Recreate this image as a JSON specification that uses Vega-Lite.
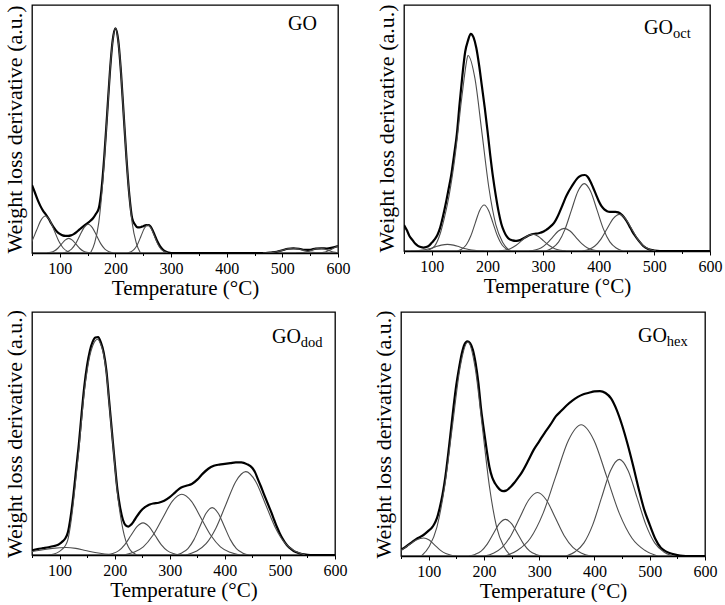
{
"$schema": "https://vega.github.io/schema/vega-lite/v6.json",
"background": "white",
"padding": {"left": 2, "top": 3, "right": 0, "bottom": 0},
"config": {
 "font": "Liberation Serif",
 "view": {"stroke": "#000", "strokeWidth": 1.3},
 "style": {"guide-label": {"font": "Liberation Serif", "fill": "#000"}, "guide-title": {"font": "Liberation Serif", "fill": "#000", "fontWeight": "normal"}},
 "axis": {"grid": false, "domainColor": "#000", "tickColor": "#000", "labelColor": "#000", "titleColor": "#000", "labelFont": "Liberation Serif", "titleFont": "Liberation Serif", "titleFontWeight": "normal"},
 "axisX": {"values": [50,100,150,200,250,300,350,400,450,500,550,600], "labelExpr": "datum.value % 100 === 0 ? datum.label : ''", "tickSize": {"condition": {"test": "datum.value % 100 === 0", "value": 4}, "value": 2.5}, "labelFont": "Liberation Serif", "titleFont": "Liberation Serif", "labelFontSize": 16, "titleFontSize": 21, "labelPadding": 3, "titlePadding": 1, "labelFlush": false, "labelOverlap": false, "domainWidth": 1.3},
 "axisY": {"labels": false, "ticks": false, "domain": false, "titleFont": "Liberation Serif", "titleFontSize": 22, "titlePadding": 6}
},
"datasets": {
"GO_env": [
{"T":50,"y":0.274},{"T":55,"y":0.245},{"T":60,"y":0.215},{"T":65,"y":0.19},{"T":70,"y":0.17},{"T":75,"y":0.155},{"T":80,"y":0.138},{"T":85,"y":0.118},{"T":90,"y":0.1},{"T":95,"y":0.086},{"T":100,"y":0.077},{"T":105,"y":0.071},{"T":110,"y":0.069},{"T":115,"y":0.069},{"T":120,"y":0.071},{"T":125,"y":0.076},{"T":130,"y":0.084},{"T":135,"y":0.094},{"T":140,"y":0.103},{"T":145,"y":0.112},{"T":150,"y":0.121},{"T":155,"y":0.13},{"T":160,"y":0.141},{"T":165,"y":0.158},{"T":170,"y":0.18},{"T":175,"y":0.258},{"T":180,"y":0.391},{"T":185,"y":0.558},{"T":190,"y":0.729},{"T":195,"y":0.857},{"T":200,"y":0.906},{"T":205,"y":0.857},{"T":210,"y":0.726},{"T":215,"y":0.55},{"T":220,"y":0.375},{"T":225,"y":0.232},{"T":230,"y":0.14},{"T":235,"y":0.115},{"T":240,"y":0.103},{"T":245,"y":0.104},{"T":250,"y":0.108},{"T":255,"y":0.112},{"T":260,"y":0.112},{"T":265,"y":0.1},{"T":270,"y":0.075},{"T":275,"y":0.048},{"T":280,"y":0.028},{"T":285,"y":0.014},{"T":290,"y":0.006},{"T":295,"y":0.002},{"T":300,"y":0},{"T":350,"y":0},{"T":400,"y":0},{"T":450,"y":0},{"T":470,"y":0},{"T":480,"y":0.002},{"T":490,"y":0.005},{"T":500,"y":0.011},{"T":510,"y":0.017},{"T":520,"y":0.019},{"T":530,"y":0.017},{"T":540,"y":0.013},{"T":550,"y":0.013},{"T":560,"y":0.018},{"T":570,"y":0.019},{"T":580,"y":0.018},{"T":590,"y":0.022},{"T":600,"y":0.028}
],
"GO_comp": [
{"curve":"A","T":26,"y":0},{"curve":"A","T":34,"y":0.0065},{"curve":"A","T":42,"y":0.0202},{"curve":"A","T":50,"y":0.0484},{"curve":"A","T":58,"y":0.0904},{"curve":"A","T":66,"y":0.1315},{"curve":"A","T":74,"y":0.149},{"curve":"A","T":82,"y":0.1315},{"curve":"A","T":90,"y":0.0904},{"curve":"A","T":98,"y":0.0484},{"curve":"A","T":106,"y":0.0202},{"curve":"A","T":114,"y":0.0065},{"curve":"A","T":122,"y":0},
{"curve":"B","T":77,"y":0},{"curve":"B","T":83.5,"y":0.0026},{"curve":"B","T":90,"y":0.008},{"curve":"B","T":96.5,"y":0.0192},{"curve":"B","T":103,"y":0.0358},{"curve":"B","T":109.5,"y":0.0521},{"curve":"B","T":116,"y":0.059},{"curve":"B","T":122.5,"y":0.0521},{"curve":"B","T":129,"y":0.0358},{"curve":"B","T":135.5,"y":0.0192},{"curve":"B","T":142,"y":0.008},{"curve":"B","T":148.5,"y":0.0026},{"curve":"B","T":155,"y":0},
{"curve":"C","T":106,"y":0},{"curve":"C","T":113.5,"y":0.0051},{"curve":"C","T":121,"y":0.0157},{"curve":"C","T":128.5,"y":0.0377},{"curve":"C","T":136,"y":0.0704},{"curve":"C","T":143.5,"y":0.1024},{"curve":"C","T":151,"y":0.116},{"curve":"C","T":158.5,"y":0.1024},{"curve":"C","T":166,"y":0.0704},{"curve":"C","T":173.5,"y":0.0377},{"curve":"C","T":181,"y":0.0157},{"curve":"C","T":188.5,"y":0.0051},{"curve":"C","T":196,"y":0},
{"curve":"D","T":155,"y":0},{"curve":"D","T":162.5,"y":0.0398},{"curve":"D","T":170,"y":0.1226},{"curve":"D","T":177.5,"y":0.2942},{"curve":"D","T":185,"y":0.5495},{"curve":"D","T":192.5,"y":0.7995},{"curve":"D","T":200,"y":0.906},{"curve":"D","T":207.5,"y":0.7995},{"curve":"D","T":215,"y":0.5495},{"curve":"D","T":222.5,"y":0.2942},{"curve":"D","T":230,"y":0.1226},{"curve":"D","T":237.5,"y":0.0398},{"curve":"D","T":245,"y":0},
{"curve":"E","T":222,"y":0},{"curve":"E","T":228,"y":0.005},{"curve":"E","T":234,"y":0.0153},{"curve":"E","T":240,"y":0.0367},{"curve":"E","T":246,"y":0.0685},{"curve":"E","T":252,"y":0.0997},{"curve":"E","T":258,"y":0.113},{"curve":"E","T":264,"y":0.0997},{"curve":"E","T":270,"y":0.0685},{"curve":"E","T":276,"y":0.0367},{"curve":"E","T":282,"y":0.0153},{"curve":"E","T":288,"y":0.005},{"curve":"E","T":294,"y":0},
{"curve":"F","T":465,"y":0},{"curve":"F","T":474,"y":0.0008},{"curve":"F","T":483,"y":0.0026},{"curve":"F","T":492,"y":0.0062},{"curve":"F","T":501,"y":0.0115},{"curve":"F","T":510,"y":0.0168},{"curve":"F","T":519,"y":0.019},{"curve":"F","T":528,"y":0.0168},{"curve":"F","T":537,"y":0.0115},{"curve":"F","T":546,"y":0.0062},{"curve":"F","T":555,"y":0.0026},{"curve":"F","T":564,"y":0.0008},{"curve":"F","T":573,"y":0},
{"curve":"G","T":525,"y":0},{"curve":"G","T":532,"y":0.0008},{"curve":"G","T":539,"y":0.0026},{"curve":"G","T":546,"y":0.0062},{"curve":"G","T":553,"y":0.0115},{"curve":"G","T":560,"y":0.0168},{"curve":"G","T":567,"y":0.019},{"curve":"G","T":574,"y":0.0168},{"curve":"G","T":581,"y":0.0115},{"curve":"G","T":588,"y":0.0062},{"curve":"G","T":595,"y":0.0026},{"curve":"G","T":602,"y":0.0008},{"curve":"G","T":609,"y":0},
{"curve":"H","T":563,"y":0},{"curve":"H","T":570,"y":0.0013},{"curve":"H","T":577,"y":0.0041},{"curve":"H","T":584,"y":0.0097},{"curve":"H","T":591,"y":0.0182},{"curve":"H","T":598,"y":0.0265},{"curve":"H","T":605,"y":0.03},{"curve":"H","T":612,"y":0.0265}
],
"oct_env": [
{"T":50,"y":0.106},{"T":55,"y":0.085},{"T":60,"y":0.06},{"T":65,"y":0.045},{"T":70,"y":0.03},{"T":75,"y":0.021},{"T":80,"y":0.016},{"T":85,"y":0.014},{"T":90,"y":0.016},{"T":95,"y":0.022},{"T":100,"y":0.034},{"T":105,"y":0.047},{"T":110,"y":0.065},{"T":115,"y":0.095},{"T":120,"y":0.14},{"T":125,"y":0.192},{"T":130,"y":0.25},{"T":135,"y":0.31},{"T":140,"y":0.39},{"T":145,"y":0.475},{"T":150,"y":0.6},{"T":155,"y":0.715},{"T":160,"y":0.81},{"T":165,"y":0.855},{"T":170,"y":0.883},{"T":175,"y":0.868},{"T":180,"y":0.825},{"T":185,"y":0.755},{"T":190,"y":0.67},{"T":195,"y":0.585},{"T":200,"y":0.49},{"T":205,"y":0.39},{"T":210,"y":0.3},{"T":215,"y":0.225},{"T":220,"y":0.16},{"T":225,"y":0.11},{"T":230,"y":0.079},{"T":235,"y":0.058},{"T":240,"y":0.047},{"T":245,"y":0.043},{"T":250,"y":0.041},{"T":255,"y":0.042},{"T":260,"y":0.046},{"T":265,"y":0.052},{"T":270,"y":0.058},{"T":275,"y":0.064},{"T":280,"y":0.068},{"T":285,"y":0.07},{"T":290,"y":0.071},{"T":295,"y":0.074},{"T":300,"y":0.078},{"T":305,"y":0.085},{"T":310,"y":0.093},{"T":315,"y":0.103},{"T":320,"y":0.115},{"T":325,"y":0.135},{"T":330,"y":0.16},{"T":335,"y":0.187},{"T":340,"y":0.215},{"T":345,"y":0.238},{"T":350,"y":0.257},{"T":355,"y":0.275},{"T":360,"y":0.291},{"T":365,"y":0.302},{"T":370,"y":0.308},{"T":375,"y":0.309},{"T":380,"y":0.302},{"T":385,"y":0.283},{"T":390,"y":0.257},{"T":395,"y":0.23},{"T":400,"y":0.203},{"T":405,"y":0.182},{"T":410,"y":0.169},{"T":415,"y":0.162},{"T":420,"y":0.159},{"T":425,"y":0.159},{"T":430,"y":0.159},{"T":435,"y":0.157},{"T":440,"y":0.15},{"T":445,"y":0.138},{"T":450,"y":0.122},{"T":455,"y":0.102},{"T":460,"y":0.081},{"T":465,"y":0.063},{"T":470,"y":0.047},{"T":475,"y":0.033},{"T":480,"y":0.02},{"T":490,"y":0.007},{"T":500,"y":0.002},{"T":510,"y":0},{"T":550,"y":0},{"T":600,"y":0}
],
"oct_comp": [
{"curve":"c","T":62,"y":0},{"curve":"c","T":73,"y":0.0012},{"curve":"c","T":84,"y":0.0037},{"curve":"c","T":95,"y":0.0088},{"curve":"c","T":106,"y":0.0164},{"curve":"c","T":117,"y":0.0238},{"curve":"c","T":128,"y":0.027},{"curve":"c","T":139,"y":0.0238},{"curve":"c","T":150,"y":0.0164},{"curve":"c","T":161,"y":0.0088},{"curve":"c","T":172,"y":0.0037},{"curve":"c","T":183,"y":0.0012},{"curve":"c","T":194,"y":0},
{"curve":"a","T":90,"y":0},{"curve":"a","T":95,"y":0.005},{"curve":"a","T":105,"y":0.02},{"curve":"a","T":115,"y":0.07},{"curve":"a","T":122,"y":0.13},{"curve":"a","T":128,"y":0.19},{"curve":"a","T":134,"y":0.265},{"curve":"a","T":140,"y":0.355},{"curve":"a","T":146,"y":0.465},{"curve":"a","T":152,"y":0.59},{"curve":"a","T":158,"y":0.7},{"curve":"a","T":162,"y":0.765},{"curve":"a","T":165,"y":0.795},{"curve":"a","T":177.5,"y":0.7016},{"curve":"a","T":190,"y":0.4822},{"curve":"a","T":202.5,"y":0.2581},{"curve":"a","T":215,"y":0.1076},{"curve":"a","T":227.5,"y":0.0349},{"curve":"a","T":240,"y":0},
{"curve":"b","T":146,"y":0},{"curve":"b","T":154,"y":0.0082},{"curve":"b","T":162,"y":0.0253},{"curve":"b","T":170,"y":0.0607},{"curve":"b","T":178,"y":0.1134},{"curve":"b","T":186,"y":0.165},{"curve":"b","T":194,"y":0.187},{"curve":"b","T":202,"y":0.165},{"curve":"b","T":210,"y":0.1134},{"curve":"b","T":218,"y":0.0607},{"curve":"b","T":226,"y":0.0253},{"curve":"b","T":234,"y":0.0082},{"curve":"b","T":242,"y":0},
{"curve":"d","T":221,"y":0},{"curve":"d","T":231,"y":0.003},{"curve":"d","T":241,"y":0.0092},{"curve":"d","T":251,"y":0.0221},{"curve":"d","T":261,"y":0.0412},{"curve":"d","T":271,"y":0.06},{"curve":"d","T":281,"y":0.068},{"curve":"d","T":291,"y":0.06},{"curve":"d","T":301,"y":0.0412},{"curve":"d","T":311,"y":0.0221},{"curve":"d","T":321,"y":0.0092},{"curve":"d","T":331,"y":0.003},{"curve":"d","T":341,"y":0},
{"curve":"e","T":275,"y":0},{"curve":"e","T":285.5,"y":0.004},{"curve":"e","T":296,"y":0.0124},{"curve":"e","T":306.5,"y":0.0299},{"curve":"e","T":317,"y":0.0558},{"curve":"e","T":327.5,"y":0.0812},{"curve":"e","T":338,"y":0.092},{"curve":"e","T":348.5,"y":0.0812},{"curve":"e","T":359,"y":0.0558},{"curve":"e","T":369.5,"y":0.0299},{"curve":"e","T":380,"y":0.0124},{"curve":"e","T":390.5,"y":0.004},{"curve":"e","T":401,"y":0},
{"curve":"f","T":305,"y":0},{"curve":"f","T":316.5,"y":0.012},{"curve":"f","T":328,"y":0.0371},{"curve":"f","T":339.5,"y":0.089},{"curve":"f","T":351,"y":0.1662},{"curve":"f","T":362.5,"y":0.2418},{"curve":"f","T":374,"y":0.274},{"curve":"f","T":385.5,"y":0.2418},{"curve":"f","T":397,"y":0.1662},{"curve":"f","T":408.5,"y":0.089},{"curve":"f","T":420,"y":0.0371},{"curve":"f","T":431.5,"y":0.012},{"curve":"f","T":443,"y":0},
{"curve":"g","T":371,"y":0},{"curve":"g","T":382,"y":0.0065},{"curve":"g","T":393,"y":0.0202},{"curve":"g","T":404,"y":0.0484},{"curve":"g","T":415,"y":0.0904},{"curve":"g","T":426,"y":0.1315},{"curve":"g","T":437,"y":0.149},{"curve":"g","T":448,"y":0.1315},{"curve":"g","T":459,"y":0.0904},{"curve":"g","T":470,"y":0.0484},{"curve":"g","T":481,"y":0.0202},{"curve":"g","T":492,"y":0.0065},{"curve":"g","T":503,"y":0}
],
"dod_env": [
{"T":50,"y":0.019},{"T":60,"y":0.024},{"T":70,"y":0.028},{"T":80,"y":0.032},{"T":90,"y":0.037},{"T":95,"y":0.04},{"T":100,"y":0.046},{"T":105,"y":0.055},{"T":110,"y":0.067},{"T":115,"y":0.092},{"T":120,"y":0.155},{"T":125,"y":0.243},{"T":130,"y":0.35},{"T":135,"y":0.455},{"T":140,"y":0.58},{"T":145,"y":0.695},{"T":150,"y":0.78},{"T":155,"y":0.84},{"T":160,"y":0.877},{"T":165,"y":0.895},{"T":170,"y":0.897},{"T":175,"y":0.875},{"T":180,"y":0.835},{"T":185,"y":0.76},{"T":190,"y":0.635},{"T":195,"y":0.51},{"T":200,"y":0.385},{"T":205,"y":0.27},{"T":210,"y":0.195},{"T":215,"y":0.145},{"T":220,"y":0.122},{"T":225,"y":0.117},{"T":230,"y":0.125},{"T":235,"y":0.14},{"T":240,"y":0.158},{"T":245,"y":0.174},{"T":250,"y":0.187},{"T":255,"y":0.197},{"T":260,"y":0.204},{"T":265,"y":0.209},{"T":270,"y":0.212},{"T":280,"y":0.215},{"T":290,"y":0.223},{"T":300,"y":0.238},{"T":310,"y":0.258},{"T":320,"y":0.277},{"T":330,"y":0.285},{"T":340,"y":0.292},{"T":350,"y":0.31},{"T":360,"y":0.335},{"T":370,"y":0.355},{"T":380,"y":0.367},{"T":390,"y":0.372},{"T":400,"y":0.375},{"T":410,"y":0.378},{"T":420,"y":0.381},{"T":430,"y":0.381},{"T":440,"y":0.374},{"T":450,"y":0.358},{"T":455,"y":0.34},{"T":460,"y":0.312},{"T":465,"y":0.285},{"T":470,"y":0.256},{"T":475,"y":0.228},{"T":480,"y":0.2},{"T":485,"y":0.172},{"T":490,"y":0.142},{"T":495,"y":0.113},{"T":500,"y":0.088},{"T":505,"y":0.067},{"T":510,"y":0.049},{"T":515,"y":0.035},{"T":520,"y":0.025},{"T":525,"y":0.016},{"T":530,"y":0.011},{"T":540,"y":0.004},{"T":550,"y":0.001},{"T":560,"y":0},{"T":600,"y":0}
],
"dod_comp": [
{"curve":"low","T":-13,"y":0.0014},{"curve":"low","T":12,"y":0.0042},{"curve":"low","T":37,"y":0.0101},{"curve":"low","T":62,"y":0.0188},{"curve":"low","T":87,"y":0.0274},{"curve":"low","T":112,"y":0.031},{"curve":"low","T":129.5,"y":0.0274},{"curve":"low","T":147,"y":0.0188},{"curve":"low","T":164.5,"y":0.0101},{"curve":"low","T":182,"y":0.0042},{"curve":"low","T":199.5,"y":0.0014},{"curve":"low","T":217,"y":0},
{"curve":"main","T":80,"y":0},{"curve":"main","T":90,"y":0.004},{"curve":"main","T":100,"y":0.015},{"curve":"main","T":105,"y":0.024},{"curve":"main","T":110,"y":0.037},{"curve":"main","T":115,"y":0.062},{"curve":"main","T":120,"y":0.125},{"curve":"main","T":125,"y":0.214},{"curve":"main","T":130,"y":0.322},{"curve":"main","T":135,"y":0.43},{"curve":"main","T":140,"y":0.555},{"curve":"main","T":145,"y":0.673},{"curve":"main","T":150,"y":0.758},{"curve":"main","T":155,"y":0.82},{"curve":"main","T":160,"y":0.86},{"curve":"main","T":165,"y":0.882},{"curve":"main","T":169,"y":0.888},{"curve":"main","T":175,"y":0.865},{"curve":"main","T":180,"y":0.825},{"curve":"main","T":185,"y":0.75},{"curve":"main","T":190,"y":0.625},{"curve":"main","T":195,"y":0.5},{"curve":"main","T":200,"y":0.375},{"curve":"main","T":205,"y":0.255},{"curve":"main","T":210,"y":0.17},{"curve":"main","T":215,"y":0.105},{"curve":"main","T":220,"y":0.06},{"curve":"main","T":225,"y":0.033},{"curve":"main","T":230,"y":0.016},{"curve":"main","T":235,"y":0.007},{"curve":"main","T":240,"y":0},
{"curve":"b","T":185.5,"y":0},{"curve":"b","T":196.5,"y":0.0058},{"curve":"b","T":207.5,"y":0.0179},{"curve":"b","T":218.5,"y":0.0429},{"curve":"b","T":229.5,"y":0.0801},{"curve":"b","T":240.5,"y":0.1165},{"curve":"b","T":251.5,"y":0.132},{"curve":"b","T":262.5,"y":0.1165},{"curve":"b","T":273.5,"y":0.0801},{"curve":"b","T":284.5,"y":0.0429},{"curve":"b","T":295.5,"y":0.0179},{"curve":"b","T":306.5,"y":0.0058},{"curve":"b","T":317.5,"y":0},
{"curve":"c","T":217,"y":0},{"curve":"c","T":234.5,"y":0.011},{"curve":"c","T":252,"y":0.0338},{"curve":"c","T":269.5,"y":0.0812},{"curve":"c","T":287,"y":0.1516},{"curve":"c","T":304.5,"y":0.2206},{"curve":"c","T":322,"y":0.25},{"curve":"c","T":339.5,"y":0.2206},{"curve":"c","T":357,"y":0.1516},{"curve":"c","T":374.5,"y":0.0812},{"curve":"c","T":392,"y":0.0338},{"curve":"c","T":409.5,"y":0.011},{"curve":"c","T":427,"y":0},
{"curve":"d","T":311,"y":0},{"curve":"d","T":322,"y":0.0086},{"curve":"d","T":333,"y":0.0264},{"curve":"d","T":344,"y":0.0633},{"curve":"d","T":355,"y":0.1183},{"curve":"d","T":366,"y":0.1721},{"curve":"d","T":377,"y":0.195},{"curve":"d","T":388,"y":0.1721},{"curve":"d","T":399,"y":0.1183},{"curve":"d","T":410,"y":0.0633},{"curve":"d","T":421,"y":0.0264},{"curve":"d","T":432,"y":0.0086},{"curve":"d","T":443,"y":0},
{"curve":"e","T":330,"y":0},{"curve":"e","T":348,"y":0.0151},{"curve":"e","T":366,"y":0.0464},{"curve":"e","T":384,"y":0.1114},{"curve":"e","T":402,"y":0.208},{"curve":"e","T":420,"y":0.3027},{"curve":"e","T":438,"y":0.343},{"curve":"e","T":456,"y":0.3027},{"curve":"e","T":474,"y":0.208},{"curve":"e","T":492,"y":0.1114},{"curve":"e","T":510,"y":0.0464},{"curve":"e","T":528,"y":0.0151},{"curve":"e","T":546,"y":0}
],
"hex_env": [
{"T":50,"y":0.025},{"T":60,"y":0.04},{"T":70,"y":0.057},{"T":80,"y":0.073},{"T":90,"y":0.085},{"T":100,"y":0.104},{"T":105,"y":0.114},{"T":110,"y":0.13},{"T":115,"y":0.155},{"T":120,"y":0.197},{"T":125,"y":0.25},{"T":130,"y":0.32},{"T":135,"y":0.41},{"T":140,"y":0.51},{"T":145,"y":0.61},{"T":150,"y":0.7},{"T":155,"y":0.77},{"T":160,"y":0.83},{"T":165,"y":0.868},{"T":170,"y":0.88},{"T":175,"y":0.872},{"T":180,"y":0.845},{"T":185,"y":0.79},{"T":190,"y":0.71},{"T":195,"y":0.6},{"T":200,"y":0.515},{"T":205,"y":0.435},{"T":210,"y":0.365},{"T":215,"y":0.322},{"T":220,"y":0.298},{"T":225,"y":0.282},{"T":230,"y":0.27},{"T":235,"y":0.266},{"T":240,"y":0.268},{"T":245,"y":0.276},{"T":250,"y":0.287},{"T":255,"y":0.3},{"T":260,"y":0.315},{"T":265,"y":0.33},{"T":270,"y":0.348},{"T":280,"y":0.39},{"T":290,"y":0.435},{"T":300,"y":0.47},{"T":310,"y":0.505},{"T":320,"y":0.537},{"T":330,"y":0.572},{"T":340,"y":0.595},{"T":350,"y":0.618},{"T":360,"y":0.637},{"T":370,"y":0.652},{"T":380,"y":0.663},{"T":390,"y":0.669},{"T":400,"y":0.675},{"T":410,"y":0.676},{"T":420,"y":0.668},{"T":430,"y":0.646},{"T":440,"y":0.6},{"T":450,"y":0.536},{"T":460,"y":0.458},{"T":470,"y":0.37},{"T":480,"y":0.276},{"T":490,"y":0.19},{"T":500,"y":0.128},{"T":510,"y":0.071},{"T":520,"y":0.034},{"T":530,"y":0.018},{"T":540,"y":0.009},{"T":550,"y":0.004},{"T":560,"y":0.001},{"T":570,"y":0},{"T":600,"y":0}
],
"hex_comp": [
{"curve":"a","T":10,"y":0},{"curve":"a","T":23.5,"y":0.0032},{"curve":"a","T":37,"y":0.01},{"curve":"a","T":50.5,"y":0.024},{"curve":"a","T":64,"y":0.0449},{"curve":"a","T":77.5,"y":0.0653},{"curve":"a","T":91,"y":0.074},{"curve":"a","T":101,"y":0.0653},{"curve":"a","T":111,"y":0.0449},{"curve":"a","T":121,"y":0.024},{"curve":"a","T":131,"y":0.01},{"curve":"a","T":141,"y":0.0032},{"curve":"a","T":151,"y":0},
{"curve":"b","T":87,"y":0},{"curve":"b","T":101,"y":0.0385},{"curve":"b","T":115,"y":0.1187},{"curve":"b","T":129,"y":0.2848},{"curve":"b","T":143,"y":0.5319},{"curve":"b","T":157,"y":0.774},{"curve":"b","T":171,"y":0.877},{"curve":"b","T":184,"y":0.774},{"curve":"b","T":197,"y":0.5319},{"curve":"b","T":210,"y":0.2848},{"curve":"b","T":223,"y":0.1187},{"curve":"b","T":236,"y":0.0385},{"curve":"b","T":249,"y":0},
{"curve":"c","T":173,"y":0},{"curve":"c","T":184,"y":0.0066},{"curve":"c","T":195,"y":0.0203},{"curve":"c","T":206,"y":0.0487},{"curve":"c","T":217,"y":0.091},{"curve":"c","T":228,"y":0.1324},{"curve":"c","T":239,"y":0.15},{"curve":"c","T":250,"y":0.1324},{"curve":"c","T":261,"y":0.091},{"curve":"c","T":272,"y":0.0487},{"curve":"c","T":283,"y":0.0203},{"curve":"c","T":294,"y":0.0066},{"curve":"c","T":305,"y":0},
{"curve":"d","T":201,"y":0},{"curve":"d","T":217,"y":0.0114},{"curve":"d","T":233,"y":0.0352},{"curve":"d","T":249,"y":0.0844},{"curve":"d","T":265,"y":0.1577},{"curve":"d","T":281,"y":0.2295},{"curve":"d","T":297,"y":0.26},{"curve":"d","T":313,"y":0.2295},{"curve":"d","T":329,"y":0.1577},{"curve":"d","T":345,"y":0.0844},{"curve":"d","T":361,"y":0.0352},{"curve":"d","T":377,"y":0.0114},{"curve":"d","T":393,"y":0},
{"curve":"e","T":238,"y":0},{"curve":"e","T":261,"y":0.0236},{"curve":"e","T":284,"y":0.0728},{"curve":"e","T":307,"y":0.1747},{"curve":"e","T":330,"y":0.3263},{"curve":"e","T":353,"y":0.4748},{"curve":"e","T":376,"y":0.538},{"curve":"e","T":399,"y":0.4748},{"curve":"e","T":422,"y":0.3263},{"curve":"e","T":445,"y":0.1747},{"curve":"e","T":468,"y":0.0728},{"curve":"e","T":491,"y":0.0236},{"curve":"e","T":514,"y":0},
{"curve":"f","T":349,"y":0},{"curve":"f","T":365,"y":0.0174},{"curve":"f","T":381,"y":0.0536},{"curve":"f","T":397,"y":0.1286},{"curve":"f","T":413,"y":0.2402},{"curve":"f","T":429,"y":0.3495},{"curve":"f","T":445,"y":0.396},{"curve":"f","T":461,"y":0.3495},{"curve":"f","T":477,"y":0.2402},{"curve":"f","T":493,"y":0.1286},{"curve":"f","T":509,"y":0.0536},{"curve":"f","T":525,"y":0.0174},{"curve":"f","T":541,"y":0}
]
},
"spacing": 9,
"vconcat": [
{"spacing": 23, "hconcat": [
 {"width": 306, "height": 248, "layer": [
  {"data": {"name": "GO_env"}, "mark": {"type": "line", "color": "#000", "strokeWidth": 2.2, "interpolate": "monotone", "clip": true},
   "encoding": {"x": {"field": "T", "type": "quantitative", "scale": {"domain": [50, 600], "nice": false, "zero": false}, "title": "Temperature (°C)"}, "y": {"field": "y", "type": "quantitative", "scale": {"domain": [0, 1], "nice": false}, "title": "Weight loss derivative (a.u.)"}}},
  {"data": {"name": "GO_comp"}, "mark": {"type": "line", "color": "#4d4d4d", "strokeWidth": 1.1, "interpolate": "monotone", "clip": true},
   "encoding": {"x": {"field": "T", "type": "quantitative", "title": "Temperature (°C)"}, "y": {"field": "y", "type": "quantitative", "title": "Weight loss derivative (a.u.)"}, "detail": {"field": "curve"}}},
  {"data": {"values": [{"name": "GO"}]}, "mark": {"type": "text", "align": "right", "baseline": "alphabetic", "fontSize": 20, "font": "Liberation Serif", "color": "#000"},
   "encoding": {"x": {"datum": 562, "type": "quantitative", "title": "Temperature (°C)"}, "y": {"datum": 0.899, "type": "quantitative", "title": "Weight loss derivative (a.u.)"}, "text": {"field": "name"}}}
 ]},
 {"width": 306, "height": 246, "layer": [
  {"data": {"name": "oct_env"}, "mark": {"type": "line", "color": "#000", "strokeWidth": 2.2, "interpolate": "monotone", "clip": true},
   "encoding": {"x": {"field": "T", "type": "quantitative", "scale": {"domain": [50, 600], "nice": false, "zero": false}, "title": "Temperature (°C)"}, "y": {"field": "y", "type": "quantitative", "scale": {"domain": [0, 1], "nice": false}, "title": "Weight loss derivative (a.u.)"}}},
  {"data": {"name": "oct_comp"}, "mark": {"type": "line", "color": "#4d4d4d", "strokeWidth": 1.1, "interpolate": "monotone", "clip": true},
   "encoding": {"x": {"field": "T", "type": "quantitative", "title": "Temperature (°C)"}, "y": {"field": "y", "type": "quantitative", "title": "Weight loss derivative (a.u.)"}, "detail": {"field": "curve"}}},
  {"data": {"values": [{"name": "GO", "sub": "oct"}]}, "layer": [
   {"mark": {"type": "text", "align": "right", "baseline": "alphabetic", "fontSize": 20, "font": "Liberation Serif", "color": "#000"},
    "encoding": {"x": {"datum": 533.5, "type": "quantitative", "title": "Temperature (°C)"}, "y": {"datum": 0.881, "type": "quantitative", "title": "Weight loss derivative (a.u.)"}, "text": {"field": "name"}}},
   {"mark": {"type": "text", "align": "left", "baseline": "alphabetic", "dy": 4, "fontSize": 14.5, "font": "Liberation Serif", "color": "#000"},
    "encoding": {"x": {"datum": 533.5, "type": "quantitative", "title": "Temperature (°C)"}, "y": {"datum": 0.881, "type": "quantitative", "title": "Weight loss derivative (a.u.)"}, "text": {"field": "sub"}}}
  ]}
 ]}
]},
{"spacing": 23, "hconcat": [
 {"width": 303, "height": 243, "layer": [
  {"data": {"name": "dod_env"}, "mark": {"type": "line", "color": "#000", "strokeWidth": 2.2, "interpolate": "monotone", "clip": true},
   "encoding": {"x": {"field": "T", "type": "quantitative", "scale": {"domain": [50, 600], "nice": false, "zero": false}, "title": "Temperature (°C)"}, "y": {"field": "y", "type": "quantitative", "scale": {"domain": [0, 1], "nice": false}, "title": "Weight loss derivative (a.u.)"}}},
  {"data": {"name": "dod_comp"}, "mark": {"type": "line", "color": "#4d4d4d", "strokeWidth": 1.1, "interpolate": "monotone", "clip": true},
   "encoding": {"x": {"field": "T", "type": "quantitative", "title": "Temperature (°C)"}, "y": {"field": "y", "type": "quantitative", "title": "Weight loss derivative (a.u.)"}, "detail": {"field": "curve"}}},
  {"data": {"values": [{"name": "GO", "sub": "dod"}]}, "layer": [
   {"mark": {"type": "text", "align": "right", "baseline": "alphabetic", "fontSize": 20, "font": "Liberation Serif", "color": "#000"},
    "encoding": {"x": {"datum": 538, "type": "quantitative", "title": "Temperature (°C)"}, "y": {"datum": 0.872, "type": "quantitative", "title": "Weight loss derivative (a.u.)"}, "text": {"field": "name"}}},
   {"mark": {"type": "text", "align": "left", "baseline": "alphabetic", "dy": 4, "fontSize": 14.5, "font": "Liberation Serif", "color": "#000"},
    "encoding": {"x": {"datum": 538, "type": "quantitative", "title": "Temperature (°C)"}, "y": {"datum": 0.872, "type": "quantitative", "title": "Weight loss derivative (a.u.)"}, "text": {"field": "sub"}}}
  ]}
 ]},
 {"width": 304, "height": 244, "layer": [
  {"data": {"name": "hex_env"}, "mark": {"type": "line", "color": "#000", "strokeWidth": 2.2, "interpolate": "monotone", "clip": true},
   "encoding": {"x": {"field": "T", "type": "quantitative", "scale": {"domain": [50, 600], "nice": false, "zero": false}, "title": "Temperature (°C)"}, "y": {"field": "y", "type": "quantitative", "scale": {"domain": [0, 1], "nice": false}, "title": "Weight loss derivative (a.u.)"}}},
  {"data": {"name": "hex_comp"}, "mark": {"type": "line", "color": "#4d4d4d", "strokeWidth": 1.1, "interpolate": "monotone", "clip": true},
   "encoding": {"x": {"field": "T", "type": "quantitative", "title": "Temperature (°C)"}, "y": {"field": "y", "type": "quantitative", "title": "Weight loss derivative (a.u.)"}, "detail": {"field": "curve"}}},
  {"data": {"values": [{"name": "GO", "sub": "hex"}]}, "layer": [
   {"mark": {"type": "text", "align": "right", "baseline": "alphabetic", "fontSize": 20, "font": "Liberation Serif", "color": "#000"},
    "encoding": {"x": {"datum": 531, "type": "quantitative", "title": "Temperature (°C)"}, "y": {"datum": 0.877, "type": "quantitative", "title": "Weight loss derivative (a.u.)"}, "text": {"field": "name"}}},
   {"mark": {"type": "text", "align": "left", "baseline": "alphabetic", "dy": 4, "fontSize": 14.5, "font": "Liberation Serif", "color": "#000"},
    "encoding": {"x": {"datum": 531, "type": "quantitative", "title": "Temperature (°C)"}, "y": {"datum": 0.877, "type": "quantitative", "title": "Weight loss derivative (a.u.)"}, "text": {"field": "sub"}}}
  ]}
 ]}
]}
]
}
